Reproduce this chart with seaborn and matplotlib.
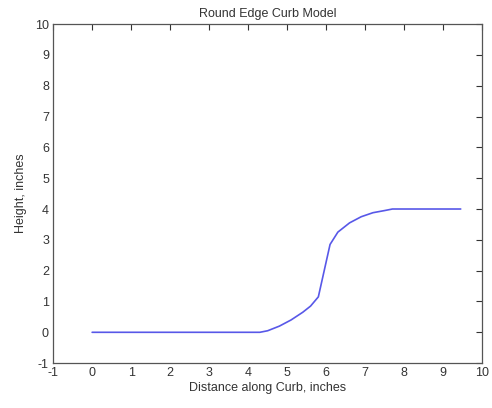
import matplotlib
matplotlib.use("Agg")
import matplotlib.pyplot as plt
import seaborn as sns
import pandas as pd

# Curb profile
distance = [0.0, 4.3, 4.5, 4.8, 5.1, 5.4, 5.6, 5.8, 6.1, 6.3, 6.6, 6.9, 7.2, 7.5, 7.7, 9.45]
height = [0.0, 0.0, 0.05, 0.2, 0.4, 0.65, 0.85, 1.15, 2.85, 3.25, 3.55, 3.75, 3.88, 3.95, 4.0, 4.0]
x_ticks = list(range(-1, 11))
y_ticks = list(range(-1, 11))

sns.set_style("white")
plt.rcParams['font.family'] = ['Liberation Sans', 'DejaVu Sans']
plt.rcParams['axes.unicode_minus'] = False

df = pd.DataFrame({'distance': distance, 'height': height})

fig = plt.figure(figsize=(4.92, 4.08), dpi=100)
ax = fig.add_axes([0.108, 0.110, 0.872, 0.831])
sns.lineplot(data=df, x='distance', y='height', sort=False, color='#5858e8',
             linewidth=1.2, ax=ax)

ax.set_xlim(-1, 10)
ax.set_ylim(-1, 10)
ax.set_xticks(x_ticks)
ax.set_yticks(y_ticks)
ax.tick_params(direction='in', top=True, right=True, length=4, width=0.8,
               labelsize=9, colors='#333333', pad=3)
for s in ax.spines.values():
    s.set_color('#555555')
    s.set_linewidth(0.9)
ax.set_title('Round Edge Curb Model', fontsize=9, color='#333333', pad=5)
ax.set_xlabel('Distance along Curb, inches', fontsize=9, color='#333333', labelpad=2)
ax.set_ylabel('Height, inches', fontsize=9, color='#333333', labelpad=6)

fig.savefig('out.png', dpi=100)
